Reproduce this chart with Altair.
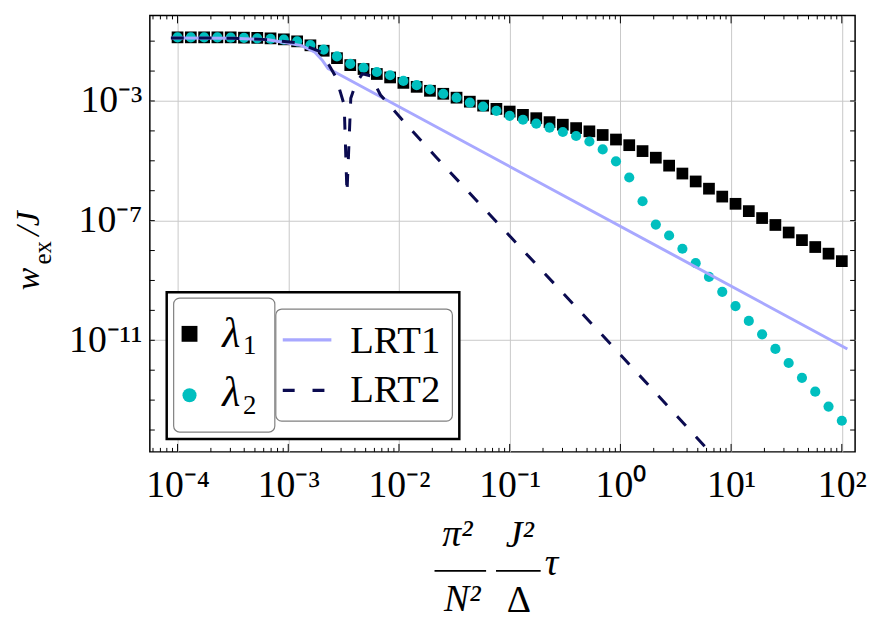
import altair as alt
import pandas as pd

FONT = "Liberation Serif"

# tau values of the sampled points (log-spaced 1e-4 ... 1e2)
TAU = [1.000e-4, 1.318e-4, 1.738e-4, 2.291e-4, 3.020e-4, 3.981e-4, 5.248e-4, 6.918e-4, 9.120e-4,
       1.202e-3, 1.585e-3, 2.089e-3, 2.754e-3, 3.631e-3, 4.786e-3, 6.310e-3, 8.318e-3,
       1.096e-2, 1.445e-2, 1.905e-2, 2.512e-2, 3.311e-2, 4.365e-2, 5.754e-2, 7.586e-2,
       1.000e-1, 1.318e-1, 1.738e-1, 2.291e-1, 3.020e-1, 3.981e-1, 5.248e-1, 6.918e-1, 9.120e-1,
       1.202, 1.585, 2.089, 2.754, 3.631, 4.786, 6.310, 8.318,
       10.96, 14.45, 19.05, 25.12, 33.11, 43.65, 57.54, 75.86, 100.0]

LAMBDA1 = [1.34e-1, 1.34e-1, 1.34e-1, 1.34e-1, 1.34e-1, 1.31e-1, 1.29e-1, 1.24e-1, 1.15e-1,
           9.85e-2, 7.26e-2, 4.78e-2, 2.70e-2, 1.58e-2, 1.17e-2, 7.98e-3, 6.12e-3,
           4.03e-3, 2.97e-3, 2.19e-3, 1.74e-3, 1.29e-3, 9.48e-4, 7.00e-4, 5.44e-4,
           4.43e-4, 3.44e-4, 2.66e-4, 1.96e-4, 1.61e-4, 1.24e-4, 9.66e-5, 7.29e-5, 5.14e-5,
           3.33e-5, 2.11e-5, 1.27e-5, 6.89e-6, 3.75e-6, 2.04e-6, 1.17e-6, 6.36e-7,
           3.65e-7, 2.08e-7, 1.22e-7, 7.16e-8, 4.01e-8, 2.23e-8, 1.31e-8, 7.87e-9, 4.42e-9]

LAMBDA2 = [1.34e-1, 1.34e-1, 1.34e-1, 1.34e-1, 1.31e-1, 1.29e-1, 1.24e-1, 1.19e-1, 1.12e-1,
           9.85e-2, 7.43e-2, 5.24e-2, 3.08e-2, 1.75e-2, 1.29e-2, 9.31e-3, 7.24e-3,
           4.69e-3, 3.38e-3, 2.42e-3, 1.74e-3, 1.29e-3, 8.79e-4, 6.49e-4, 4.67e-4,
           3.19e-4, 2.36e-4, 1.74e-4, 1.28e-4, 9.16e-5, 6.76e-5, 4.42e-5, 2.40e-5, 9.62e-6,
           2.76e-6, 4.45e-7, 7.38e-8, 3.19e-8, 1.15e-8, 3.79e-9, 1.31e-9, 4.17e-10,
           1.39e-10, 4.45e-11, 1.58e-11, 5.15e-12, 1.74e-12, 5.54e-13, 1.91e-13, 6.09e-14, 2.04e-14]

LRT1_TAU = [8.71e-5, 3.16e-4, 6.61e-4, 1.32e-3, 1.74e-3, 2.04e-3, 2.29e-3, 2.63e-3, 112.2]
LRT1_W = [0.127, 0.126, 0.112, 0.0708, 0.0427, 0.0224, 0.0120, 0.00933, 5.13e-12]

LRT2_TAU = [8.71e-5, 3.16e-4, 6.61e-4, 1.23e-3, 2.00e-3, 2.69e-3, 3.20e-3, 3.39e-3, 3.67e-3,
            4.07e-3, 4.68e-3, 5.55e-3, 6.81e-3, 1.10e-2, 2.19e-2, 0.897, 10.0]
LRT2_W = [0.127, 0.126, 0.112, 0.0871, 0.0427, 6.31e-3, 7.41e-4, 8.13e-7, 1.23e-3,
          3.72e-3, 8.13e-3, 6.92e-3, 1.58e-3, 2.09e-4, 1.26e-5, 5.13e-12, 3.16e-16]

X_DOMAIN = [5.62e-5, 131.8]
Y_DOMAIN = [1.86e-15, 0.724]
X_LABEL_EXPS = [-4, -3, -2, -1, 0, 1, 2]
Y_LABEL_EXPS = [-3, -7, -11]
X_DECADE_EXPS = [-5, -4, -3, -2, -1, 0, 1, 2]
X_MINOR_MULTS = [2, 3, 4, 5, 6, 7, 8, 9]
Y_TICK_EXPS = [-14, -13, -12, -11, -10, -9, -8, -7, -6, -5, -4, -3, -2, -1]

W, H = 711, 440
SUP = str.maketrans("-0123456789", "⁻⁰¹²³⁴⁵⁶⁷⁸⁹")


def label_expr(exps):
    e = "round(log(datum.value)/LN10)"
    s = "''"
    for k in exps:
        s = f"({e}=={k} ? '10{str(k).translate(SUP)}' : {s})"
    return s


xs = alt.Scale(type="log", domain=X_DOMAIN, nice=False)
ys = alt.Scale(type="log", domain=Y_DOMAIN, nice=False)

x_axis = alt.Axis(values=[10.0 ** k for k in X_LABEL_EXPS], labelExpr=label_expr(X_LABEL_EXPS),
                  grid=True, ticks=False, domain=False, title=None, labelFont=FONT,
                  labelFontSize=38, labelBaseline="alphabetic", labelPadding=45,
                  labelFlush=False, labelOverlap=False, gridColor="#c8c8c8", gridWidth=1,
                  labelColor="black")
y_axis = alt.Axis(values=[10.0 ** k for k in Y_LABEL_EXPS], labelExpr=label_expr(Y_LABEL_EXPS),
                  grid=True, ticks=False, domain=False, title=None, labelFont=FONT,
                  labelFontSize=38, labelBaseline="middle", labelAlign="right", labelPadding=8,
                  labelFlush=False, labelOverlap=False, gridColor="#c8c8c8", gridWidth=1,
                  labelColor="black")

X = alt.X("tau:Q", scale=xs, axis=x_axis)
Y = alt.Y("w:Q", scale=ys, axis=y_axis)

sq_df = pd.DataFrame({"tau": TAU, "w": LAMBDA1})
ci_df = pd.DataFrame({"tau": TAU, "w": LAMBDA2})
l1_df = pd.DataFrame({"tau": LRT1_TAU, "w": LRT1_W})
l2_df = pd.DataFrame({"tau": LRT2_TAU, "w": LRT2_W})

squares = alt.Chart(sq_df).mark_square(size=140, color="black", opacity=1).encode(x=X, y=Y)
circles = alt.Chart(ci_df).mark_circle(size=105, color="#00bfbf", opacity=1).encode(x=X, y=Y)
lrt1 = alt.Chart(l1_df).mark_line(color="#a8a8ff", strokeWidth=3, clip=True).encode(x=X, y=Y)
lrt2 = alt.Chart(l2_df).mark_line(color="#0b0b50", strokeWidth=3, strokeDash=[13, 15],
                                  clip=True).encode(x=X, y=Y)

# inward ticks
x_major = [10.0 ** d for d in X_DECADE_EXPS]
x_minor = [m * 10.0 ** d for d in X_DECADE_EXPS for m in X_MINOR_MULTS]
xmaj_df = pd.DataFrame({"tau": [v for v in x_major if X_DOMAIN[0] <= v <= X_DOMAIN[1]]})
xmin_df = pd.DataFrame({"tau": [v for v in x_minor if X_DOMAIN[0] <= v <= X_DOMAIN[1]]})
ytk_df = pd.DataFrame({"w": [10.0 ** k for k in Y_TICK_EXPS]})

tick_layers = [
    alt.Chart(xmaj_df).mark_rule(color="black", strokeWidth=1).encode(x=X, y=alt.value(H), y2=alt.value(H - 8)),
    alt.Chart(xmin_df).mark_rule(color="black", strokeWidth=1).encode(x=X, y=alt.value(H), y2=alt.value(H - 4)),
    alt.Chart(xmaj_df).mark_rule(color="black", strokeWidth=1).encode(x=X, y=alt.value(0), y2=alt.value(8)),
    alt.Chart(xmin_df).mark_rule(color="black", strokeWidth=1).encode(x=X, y=alt.value(0), y2=alt.value(4)),
    alt.Chart(ytk_df).mark_rule(color="black", strokeWidth=1).encode(y=Y, x=alt.value(0), x2=alt.value(5)),
    alt.Chart(ytk_df).mark_rule(color="black", strokeWidth=1).encode(y=Y, x=alt.value(W), x2=alt.value(W - 5)),
]

DECOR = pd.DataFrame({"k": [0]})


def txt(s, x, y, size, style="normal", align="left", angle=0):
    kw = dict(text=s, font=FONT, fontSize=size, fontStyle=style, align=align,
              baseline="alphabetic", color="black")
    if angle:
        kw["angle"] = angle
    return alt.Chart(DECOR).mark_text(**kw).encode(x=alt.value(x), y=alt.value(y))


def box(x1, x2, y1, y2, stroke, sw, radius=0):
    kw = dict(fill="white", stroke=stroke, strokeWidth=sw)
    if radius:
        kw["cornerRadius"] = radius
    return alt.Chart(DECOR).mark_rect(**kw).encode(
        x=alt.value(x1), x2=alt.value(x2), y=alt.value(y1), y2=alt.value(y2))


legend = [
    box(17, 312, 279, 427, "black", 2.5),
    box(24, 126, 285, 420, "#808080", 1.2, 6),
    box(127, 305, 296, 409, "#808080", 1.2, 6),
    alt.Chart(DECOR).mark_square(size=256, color="black", opacity=1).encode(x=alt.value(40), y=alt.value(321)),
    alt.Chart(DECOR).mark_circle(size=201, color="#00bfbf", opacity=1).encode(x=alt.value(40), y=alt.value(383)),
    txt("λ", 73, 334, 42, "italic"),
    txt("1", 94, 341, 27),
    txt("λ", 73, 394, 42, "italic"),
    txt("2", 94, 402, 27),
    alt.Chart(DECOR).mark_rule(color="#a8a8ff", strokeWidth=3.3).encode(
        x=alt.value(134), x2=alt.value(183), y=alt.value(327)),
    alt.Chart(DECOR).mark_rule(color="#0b0b50", strokeWidth=3.3, strokeDash=[12, 18]).encode(
        x=alt.value(134), x2=alt.value(178), y=alt.value(378)),
    txt("LRT1", 202, 340, 39),
    txt("LRT2", 202, 390, 39),
]

titles = [
    # x title: (pi^2/N^2) (J^2/Delta) tau
    txt("π²", 310, 535, 38, "italic", "center"),
    alt.Chart(DECOR).mark_rule(color="black", strokeWidth=1.6).encode(
        x=alt.value(287), x2=alt.value(339), y=alt.value(560)),
    txt("N²", 315, 600, 38, "italic", "center"),
    txt("J²", 373, 536, 38, "italic", "center"),
    alt.Chart(DECOR).mark_rule(color="black", strokeWidth=1.6).encode(
        x=alt.value(349), x2=alt.value(394), y=alt.value(560)),
    txt("Δ", 372, 601, 38, "normal", "center"),
    txt("τ", 398, 564, 38, "italic"),
    # y title: w_ex / J (rotated)
    txt("w", -112, 277, 34, "italic", "left", 270),
    txt("ex", -100, 251, 25, "normal", "left", 270),
    txt("/J", -112, 222, 34, "italic", "left", 270),
]

chart = alt.layer(squares, circles, lrt1, lrt2, *tick_layers, *legend, *titles).properties(
    width=W, height=H,
    autosize=alt.AutoSizeParams(type="none"),
    padding={"left": 143, "top": 5, "right": 12, "bottom": 167},
    background="white",
).configure_view(stroke="black", strokeWidth=1.5)

chart.save("out.html", embed_options={"renderer": "svg", "actions": False})
